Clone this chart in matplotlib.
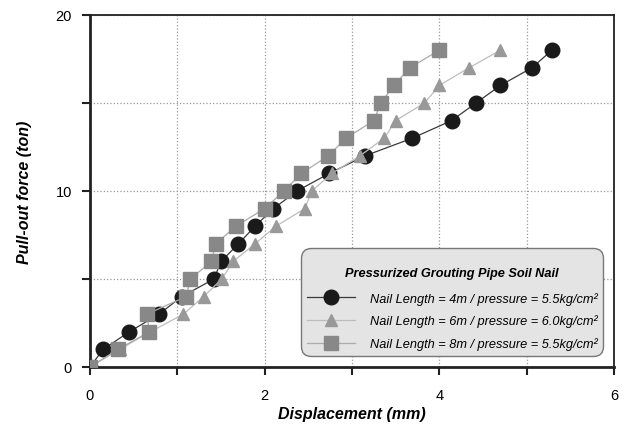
import matplotlib
matplotlib.use("Agg")
import matplotlib.pyplot as plt
from matplotlib.ticker import FixedLocator

plt.rcParams['font.family'] = ['Liberation Sans', 'DejaVu Sans']

# Data
force = list(range(0, 19))
disp_4m = [0.0, 0.15, 0.45, 0.79, 1.05, 1.42, 1.50, 1.70, 1.89, 2.10, 2.37, 2.74,
           3.15, 3.69, 4.14, 4.42, 4.70, 5.06, 5.29]
disp_6m = [0.0, 0.34, 0.69, 1.07, 1.30, 1.51, 1.64, 1.89, 2.13, 2.46, 2.54, 2.77,
           3.09, 3.37, 3.50, 3.83, 4.00, 4.34, 4.70]
disp_8m = [0.0, 0.32, 0.68, 0.65, 1.10, 1.15, 1.39, 1.44, 1.67, 2.00, 2.22, 2.42,
           2.73, 2.93, 3.25, 3.33, 3.48, 3.66, 4.00]

labels = ["Nail Length = 4m / pressure = 5.5kg/cm²",
          "Nail Length = 6m / pressure = 6.0kg/cm²",
          "Nail Length = 8m / pressure = 5.5kg/cm²"]
legend_title = "Pressurized Grouting Pipe Soil Nail"
xlabel = "Displacement (mm)"
ylabel = "Pull-out force (ton)"

fig = plt.figure(figsize=(6.37, 4.27), dpi=100)
ax = fig.add_axes([90/637, 1-368/427, (614-90)/637, (368-16)/427])

ax.plot(disp_4m, force, '-', color='#3a3a3a', lw=0.9, marker='o', ms=10.5,
        mfc='#1a1a1a', mec='#1a1a1a', label=labels[0], zorder=3)
ax.plot(disp_6m, force, '-', color='#bdbdbd', lw=0.9, marker='^', ms=9,
        mfc='#999999', mec='#999999', label=labels[1], zorder=4)
ax.plot(disp_8m, force, '-', color='#aaaaaa', lw=0.9, marker='s', ms=9.5,
        mfc='#888888', mec='#888888', label=labels[2], zorder=5)

ax.set_xlim(0, 6)
ax.set_ylim(0, 20)
ax.xaxis.set_major_locator(FixedLocator([0, 2, 4, 6]))
ax.xaxis.set_minor_locator(FixedLocator([1, 3, 5]))
ax.yaxis.set_major_locator(FixedLocator([0, 10, 20]))
ax.yaxis.set_minor_locator(FixedLocator([5, 15]))
ax.tick_params(which='both', direction='out', length=6, width=1.5, color='#222222',
               labelsize=10.5)
ax.tick_params(axis='x', which='major', pad=9)
ax.tick_params(axis='y', which='major', pad=7)
ax.grid(True, which='both', linestyle=':', color='#999999', lw=0.9)
ax.set_axisbelow(True)
for s in ['top', 'right']:
    ax.spines[s].set_linewidth(1.3)
    ax.spines[s].set_color('#222222')
for s in ['left', 'bottom']:
    ax.spines[s].set_linewidth(2)
    ax.spines[s].set_color('#222222')

ax.set_xlabel(xlabel, fontsize=11.5, fontweight='bold', fontstyle='italic', labelpad=3)
ax.set_ylabel(ylabel, fontsize=11.5, fontweight='bold', fontstyle='italic', labelpad=17)

leg = ax.legend(loc='lower right', bbox_to_anchor=((603-90)/524, (368-357)/352),
                borderaxespad=0, fancybox=True, framealpha=1,
                facecolor='#e4e4e4', edgecolor='#777777',
                prop={'style': 'italic', 'size': 9.2},
                title="\n" + legend_title,
                title_fontproperties={'weight': 'bold', 'style': 'italic', 'size': 9.2},
                handlelength=3.75, handletextpad=1.15, labelspacing=0.78,
                borderpad=0.45)
leg.get_frame().set_linewidth(1.0)
leg.get_frame().set_boxstyle('round', pad=0, rounding_size=0.8)
leg._legend_box.sep = 9
leg.set_zorder(10)

fig.savefig('out.png', dpi=100)
